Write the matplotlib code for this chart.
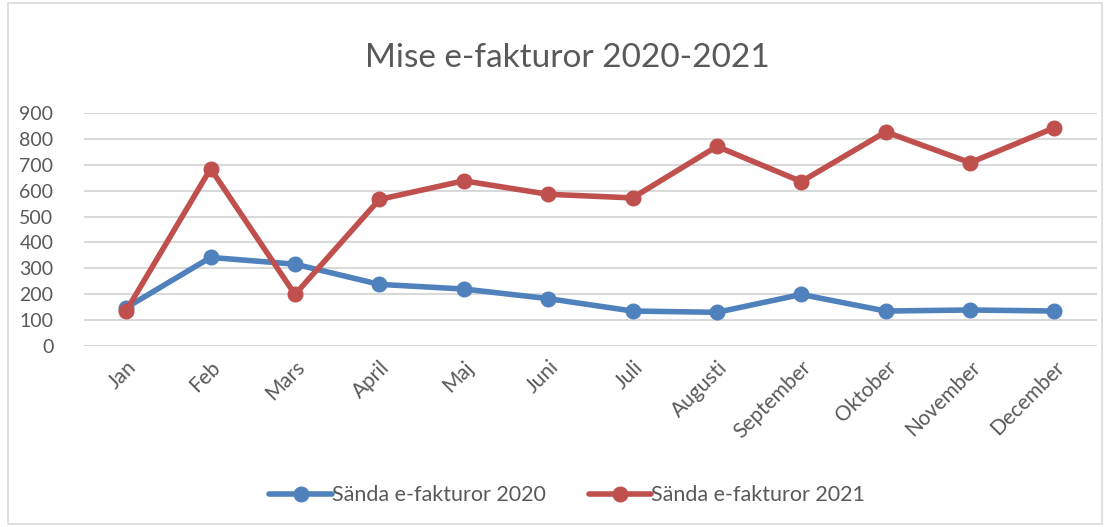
import matplotlib
matplotlib.use("Agg")
import matplotlib.pyplot as plt
from matplotlib.patches import Rectangle

months = ["Jan", "Feb", "Mars", "April", "Maj", "Juni", "Juli", "Augusti",
          "September", "Oktober", "November", "December"]
sent_2020 = [148, 342, 316, 238, 220, 183, 135, 130, 199, 135, 139, 135]
sent_2021 = [136, 685, 199, 566, 638, 586, 572, 771, 635, 827, 708, 843]
label_2020 = "Sända e-fakturor 2020"
label_2021 = "Sända e-fakturor 2021"
title = "Mise e-fakturor 2020-2021"
yticks = list(range(0, 1000, 100))

plt.rcParams['font.family'] = ['Lato', 'DejaVu Sans']
txt = '#595959'

fig = plt.figure(figsize=(11.1, 5.27), dpi=100)
ax = fig.add_axes([0.0757, 0.3435, 0.9123, 0.4421])

x = list(range(len(months)))
ax.plot(x, sent_2020, color='#4F81BD', lw=4.0, marker='o', ms=10.5,
        label=label_2020, solid_capstyle='round', zorder=3)
ax.plot(x, sent_2021, color='#C0504D', lw=4.0, marker='o', ms=10.5,
        label=label_2021, solid_capstyle='round', zorder=4)

ax.set_xlim(-0.5, len(months) - 0.5)
ax.set_ylim(0, 900)
ax.set_yticks(yticks)
ax.set_yticklabels([str(v) for v in yticks], fontsize=14, color=txt)
ax.set_xticks(x)
ax.set_xticklabels(months, rotation=45, ha='right', rotation_mode='anchor',
                   fontsize=15, color=txt)
ax.tick_params(axis='both', length=0)
ax.tick_params(axis='y', pad=22)
ax.tick_params(axis='x', pad=8)
ax.grid(axis='y', color='#D9D9D9', lw=1.5)
ax.set_axisbelow(True)
for s in ax.spines.values():
    s.set_visible(False)

fig.text(0.511, 0.890, title, ha='center', va='center', fontsize=24, color=txt)

leg = fig.legend(loc='center', bbox_to_anchor=(0.511, 0.06), ncol=2, frameon=False,
                 fontsize=15.5, handlelength=2.9, handletextpad=0.0, columnspacing=2.0,
                 labelcolor=txt)

fig.patches.append(Rectangle((0.007, 0.006), 0.986, 0.988, transform=fig.transFigure,
                             fill=False, edgecolor='#D9D9D9', lw=1.2))

fig.savefig('out.png', dpi=100)
